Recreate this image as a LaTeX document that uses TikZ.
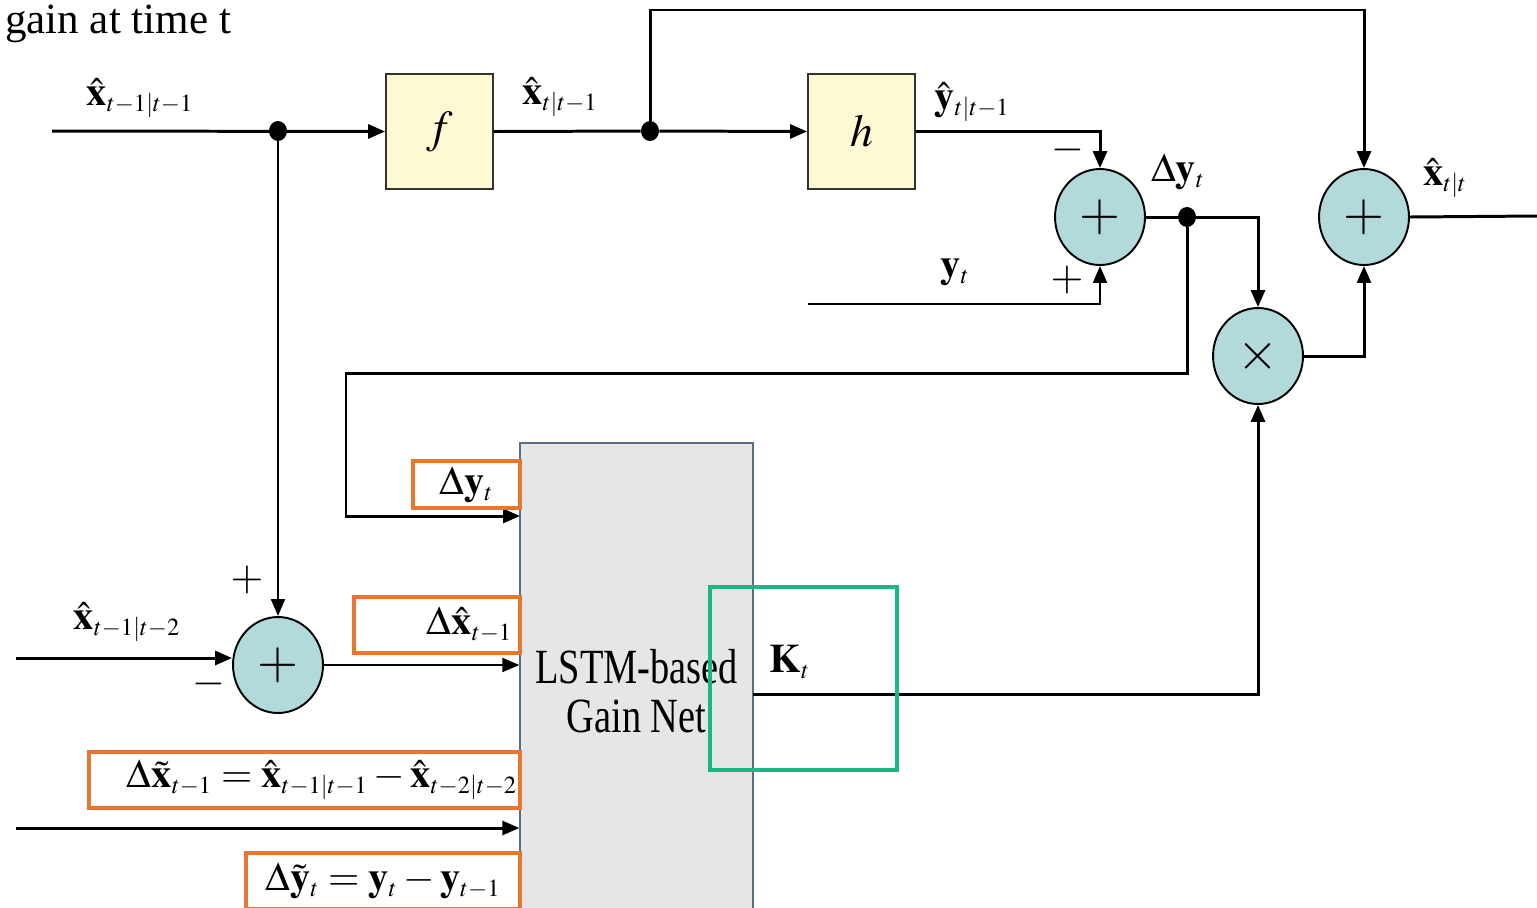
\documentclass[tikz,border=0pt]{standalone}
\usepackage{amsmath,amssymb}
\usepackage{mathptmx}
\usepackage{fontspec}
\setmainfont{Liberation Serif}
\usepackage{tikz}
\usetikzlibrary{positioning}
\usetikzlibrary{calc}
\usetikzlibrary{arrows.meta}
\usetikzlibrary{shapes.geometric}
\usepackage[dvipsnames,table]{xcolor}
\DeclareMathSizes{23}{23}{14}{10}
\definecolor{boxyellow}{HTML}{FDF9D3}
\definecolor{sumteal}{HTML}{B3DADA}
\definecolor{netgray}{HTML}{E6E6E6}
\definecolor{netedge}{HTML}{5A6D7E}
\definecolor{hlorange}{HTML}{E9762F}
\definecolor{hlgreen}{HTML}{16B883}
\tikzset{
  sig/.style={line width=1.7pt},
  thinsig/.style={line width=1.1pt},
  arr/.style={-{Triangle[length=0.34cm,width=0.28cm]}},
  blockbox/.style={draw=black!80, line width=1.1pt, fill=boxyellow, minimum width=2.14cm, minimum height=2.3cm, inner sep=0pt, font=\fontsize{26}{28}\selectfont},
  sumnode/.style={ellipse, draw=black, line width=1.1pt, fill=sumteal, minimum width=1.8cm, minimum height=1.92cm, inner sep=0pt, font=\fontsize{30}{32}\selectfont},
  dot/.style={ellipse, fill=black, minimum width=0.36cm, minimum height=0.4cm, inner sep=0pt},
  lbl/.style={inner sep=0pt, font=\fontsize{23}{26}\selectfont},
  sgn/.style={inner sep=0pt, font=\fontsize{24}{26}\selectfont},
  hlbox/.style={draw=hlorange, line width=2.3pt, inner sep=0pt, font=\fontsize{23}{26}\selectfont},
}
\begin{document}
\begin{tikzpicture}[x=0.02cm, y=-0.02cm]
\useasboundingbox (0,0) rectangle (1537,907);
% -- blocks --
\node[blockbox] (f) at (439.5,131.5) {$f$};
\node[blockbox] (h) at (861.5,131.5) {$h$};
\node[sumnode] (sumy) at (1100,217) {$+$};
\node[sumnode] (sumx) at (1364,217) {$+$};
\node[sumnode] (mult) at (1258,356) {$\times$};
\node[sumnode] (sumd) at (278,665) {$+$};
\node[draw=netedge, line width=0.8pt, fill=netgray, minimum width=4.66cm, minimum height=9.92cm, align=center, inner sep=0pt, font=\fontsize{28}{30}\selectfont] (lstm) at (636.5,691) {\scalebox{0.78}[1]{LSTM-based}\\[-2pt]\scalebox{0.78}[1]{Gain Net}};
% -- junctions --
\node[dot] (j1) at (278,131) {};
\node[dot] (j2) at (650,131) {};
\node[dot] (j3) at (1187,217) {};
\coordinate (xin) at (52,131);
\coordinate (top) at (650,10);
\coordinate (yin) at (808,304);
\coordinate (loop) at (346,373);
\coordinate (dyin) at (520,516);
\coordinate (xout) at (1537,216);
\coordinate (kout) at (753,694);
\coordinate (xin2) at (16,658);
\coordinate (din) at (16,828);
% -- signal lines --
\draw[sig, arr] (xin) -- (f.west);
\draw[sig] (f.east) -- (j2);
\draw[sig, arr] (j2) -- (h.west);
\draw[sig, arr] (j2) -- (top) -| (sumx.north);
\draw[sig, arr] (h.east) -| (sumy.north);
\draw[thinsig, arr] (yin) -| (sumy.south);
\draw[sig] (sumy.east) -- (j3);
\draw[sig, arr] (j3) -| (mult.north);
\draw[sig, arr] (j3) |- (loop) |- (dyin);
\draw[sig, arr] (mult.east) -| (sumx.south);
\draw[sig] (sumx.east) -- (xout);
\draw[sig, arr] (kout) -| (mult.south);
\draw[thinsig, arr] (j1) -- (sumd.north);
\draw[sig, arr] (xin2) -- (xin2 -| sumd.west);
\draw[thinsig, arr] (sumd.east) -- (sumd.east -| lstm.west);
\draw[sig, arr] (din) -- (din -| lstm.west);
% -- labels --
\node (title) at (118,24) {\fontsize{24.5}{28}\selectfont gain at time t};
\node[lbl] (lxa) at (140,98) {$\hat{\mathbf{x}}_{t-1|t-1}$};
\node[lbl] (lxb) at (560,97) {$\hat{\mathbf{x}}_{t|t-1}$};
\node[lbl] (lyh) at (972,102) {$\hat{\mathbf{y}}_{t|t-1}$};
\node[lbl] (lyt) at (955,272) {$\mathbf{y}_{t}$};
\node[lbl] (ldy) at (1178,172) {$\Delta\mathbf{y}_{t}$};
\node[lbl] (lxc) at (1445,178) {$\hat{\mathbf{x}}_{t|t}$};
\node[lbl] (lxd) at (127,622) {$\hat{\mathbf{x}}_{t-1|t-2}$};
\node[sgn] (m1) at (1068,150) {$-$};
\node[sgn] (p1) at (1067,280) {$+$};
\node[sgn] (p2) at (247,580) {$+$};
\node[sgn] (m2) at (209,684) {$-$};
% -- highlight boxes --
\node[hlbox, minimum width=2.14cm, minimum height=0.94cm] (hdy) at (466.5,484.5) {$\Delta\mathbf{y}_{t}$};
\node[hlbox, minimum width=3.32cm, minimum height=1.12cm] (hdx) at (437,625) {\hspace*{1.3cm}$\Delta\hat{\mathbf{x}}_{t-1}$};
\node[hlbox, minimum width=8.62cm, minimum height=1.12cm] (hdxt) at (304.5,780) {\hspace*{0.7cm}$\Delta\tilde{\mathbf{x}}_{t-1}=\hat{\mathbf{x}}_{t-1|t-1}-\hat{\mathbf{x}}_{t-2|t-2}$};
\node[hlbox, minimum width=5.48cm, minimum height=1.12cm] (hdyt) at (383,881) {$\Delta\tilde{\mathbf{y}}_{t}=\mathbf{y}_{t}-\mathbf{y}_{t-1}$};
\node[draw=hlgreen, line width=2.3pt, minimum width=3.74cm, minimum height=3.66cm, inner sep=0pt] (gain) at (803.5,678.5) {};
\node[lbl] (lk) at (790,662) {$\mathbf{K}_{t}$};
\end{tikzpicture}
\end{document}
